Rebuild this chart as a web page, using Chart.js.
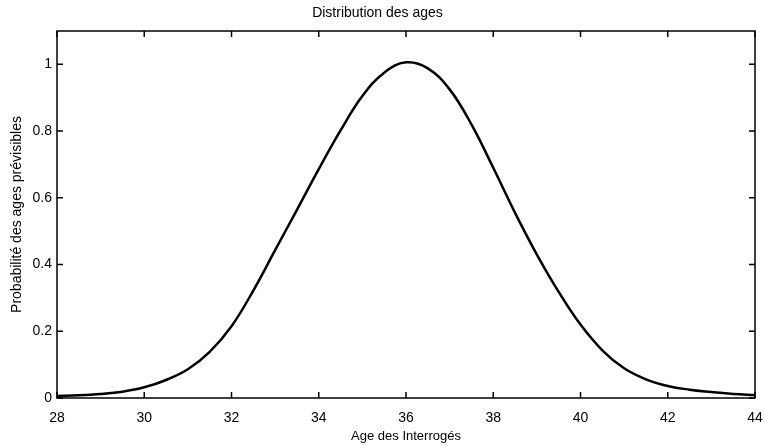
<!DOCTYPE html>
<html>
<head>
<meta charset="utf-8">
<script src="https://cdn.jsdelivr.net/npm/chart.js@4"></script>
<style>
  html, body { margin: 0; padding: 0; background: #fff; }
</style>
</head>
<body>
<canvas id="graphe" width="765" height="446"></canvas>
<script>
// ages (axe x) et probabilites
const ages = [28, 28.5, 29, 29.5, 30, 30.5, 31, 31.5, 32, 32.5, 33, 33.5, 34, 34.5, 35, 35.5, 36,
              36.5, 37, 37.5, 38, 38.5, 39, 39.5, 40, 40.5, 41, 41.5, 42, 42.5, 43, 43.5, 44];
const probabilites = [0.006, 0.008, 0.012, 0.019, 0.032, 0.054, 0.086, 0.138, 0.215, 0.322, 0.443, 0.564, 0.686, 0.802, 0.905, 0.975, 1.006,
                      0.988, 0.925, 0.82, 0.69, 0.555, 0.43, 0.318, 0.22, 0.143, 0.089, 0.056, 0.036, 0.025, 0.018, 0.012, 0.009];
const ticksX = [28, 30, 32, 34, 36, 38, 40, 42, 44];
const ticksY = [0, 0.2, 0.4, 0.6, 0.8, 1];
const labelsY = ['0', '0.2', '0.4', '0.6', '0.8', '1'];

const police = { family: 'Liberation Sans, Arial, sans-serif', size: 14 };

// cadre + petites graduations vers l'interieur, facon Matlab
const cadre = {
    id: 'cadre',
    afterDraw(chart) {
        const c = chart.ctx;
        const a = chart.chartArea;
        const sx = chart.scales.x, sy = chart.scales.y;
        const L = 6;
        c.save();
        c.strokeStyle = '#000';
        c.lineWidth = 1.5;
        c.strokeRect(a.left, a.top, a.right - a.left, a.bottom - a.top);
        c.beginPath();
        ticksX.forEach(v => {
            const px = sx.getPixelForValue(v);
            c.moveTo(px, a.bottom); c.lineTo(px, a.bottom - L);
            c.moveTo(px, a.top); c.lineTo(px, a.top + L);
        });
        ticksY.forEach(v => {
            const py = sy.getPixelForValue(v);
            c.moveTo(a.left, py); c.lineTo(a.left + L, py);
            c.moveTo(a.right, py); c.lineTo(a.right - L, py);
        });
        c.stroke();
        c.restore();
    }
};

const ctx = document.getElementById('graphe').getContext('2d');
const graphe = new Chart(ctx, {
    type: 'scatter',
    data: {
        datasets: [{
            label: 'Probabilité',
            data: ages.map((a, i) => ({ x: a, y: probabilites[i] })),
            showLine: true,
            borderColor: '#000',
            borderWidth: 2.5,
            pointRadius: 0,
            tension: 0.4,
            clip: false
        }]
    },
    options: {
        responsive: false,
        animation: false,
        devicePixelRatio: 1,
        layout: { padding: { left: 0, right: 10, top: 0, bottom: 0 } },
        plugins: {
            legend: { display: false },
            tooltip: { enabled: false },
            title: {
                display: true,
                text: 'Distribution des ages',
                color: '#000',
                font: { ...police, weight: 'normal' },
                padding: { top: 5, bottom: 9.2 }
            }
        },
        scales: {
            x: {
                type: 'linear',
                min: 28,
                max: 44,
                afterBuildTicks: s => { s.ticks = ticksX.map(v => ({ value: v })); },
                afterFit: s => { s.height = 48; s.paddingLeft = 0; s.paddingRight = 0; },
                grid: { display: false, drawTicks: false },
                border: { display: false },
                ticks: { color: '#000', font: police, padding: 12, maxRotation: 0 },
                title: { display: true, text: 'Age des Interrogés', color: '#000', font: { ...police, size: 13 }, padding: { top: 0, bottom: 2 } }
            },
            y: {
                min: 0,
                max: 1.1,
                afterBuildTicks: s => { s.ticks = ticksY.map(v => ({ value: v })); },
                afterFit: s => { s.width = 57; s.paddingTop = 0; s.paddingBottom = 0; },
                grid: { display: false, drawTicks: false },
                border: { display: false },
                ticks: {
                    color: '#000', font: police, padding: 5,
                    callback: (v, i) => labelsY[i]
                },
                title: { display: true, text: 'Probabilité des ages prévisibles', color: '#000', font: police, padding: { top: 9, bottom: 0 } }
            }
        }
    },
    plugins: [cadre]
});
</script>
</body>
</html>
